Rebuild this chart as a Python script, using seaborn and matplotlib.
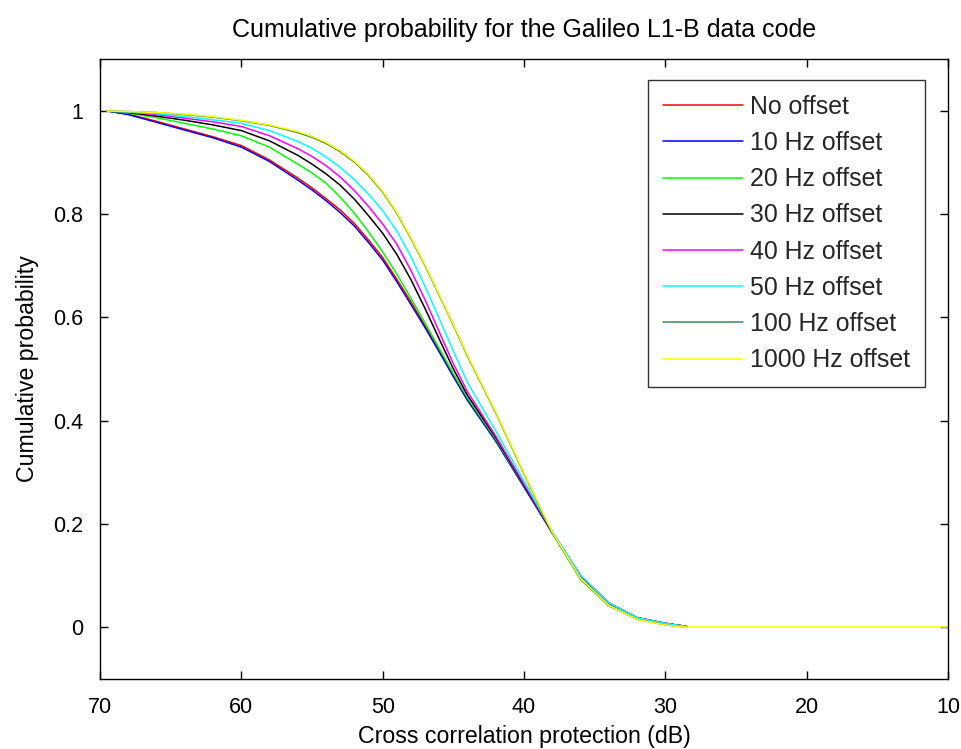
import numpy as np
import pandas as pd
import matplotlib
matplotlib.use("Agg")
import matplotlib.pyplot as plt
import seaborn as sns

# Cross correlation protection grid (dB)
protection_db = [69.5, 68, 66, 64, 62, 60, 58, 56, 55, 54, 53, 52, 51, 50, 49,
                 48, 47, 46, 45, 44, 42, 40, 38, 36, 34, 32, 30, 29, 28.5]

# Cumulative probability per Doppler offset
no_offset = [1.0, 0.994, 0.980, 0.965, 0.950, 0.933, 0.905, 0.870, 0.851, 0.830,
             0.808, 0.782, 0.750, 0.716, 0.674, 0.630, 0.584, 0.537, 0.488, 0.442,
             0.362, 0.272, 0.183, 0.100, 0.046, 0.018, 0.007, 0.003, 0.001]
off_10 = [1.0, 0.993, 0.978, 0.963, 0.948, 0.930, 0.902, 0.866, 0.847, 0.826,
          0.803, 0.777, 0.745, 0.711, 0.669, 0.625, 0.580, 0.533, 0.485, 0.439,
          0.360, 0.271, 0.182, 0.099, 0.046, 0.018, 0.007, 0.003, 0.001]
off_20 = [1.0, 0.996, 0.987, 0.976, 0.965, 0.952, 0.930, 0.897, 0.880, 0.860,
          0.833, 0.802, 0.766, 0.727, 0.684, 0.637, 0.589, 0.540, 0.491, 0.444,
          0.364, 0.273, 0.183, 0.099, 0.046, 0.018, 0.007, 0.003, 0.001]
off_30 = [1.0, 0.997, 0.990, 0.982, 0.973, 0.962, 0.942, 0.914, 0.897, 0.878,
          0.856, 0.829, 0.797, 0.763, 0.722, 0.673, 0.617, 0.558, 0.500, 0.449,
          0.367, 0.274, 0.183, 0.099, 0.046, 0.018, 0.007, 0.003, 0.001]
off_40 = [1.0, 0.998, 0.993, 0.986, 0.979, 0.970, 0.952, 0.927, 0.912, 0.894,
          0.872, 0.846, 0.815, 0.781, 0.742, 0.691, 0.634, 0.572, 0.510, 0.456,
          0.370, 0.277, 0.184, 0.100, 0.047, 0.018, 0.007, 0.003, 0.001]
off_50 = [1.0, 0.998, 0.995, 0.989, 0.983, 0.976, 0.962, 0.941, 0.928, 0.911,
          0.891, 0.867, 0.839, 0.807, 0.768, 0.718, 0.660, 0.598, 0.535, 0.474,
          0.380, 0.283, 0.185, 0.100, 0.047, 0.018, 0.007, 0.003, 0.001]
off_100 = [1.0, 0.999, 0.997, 0.993, 0.988, 0.981, 0.972, 0.958, 0.949, 0.937,
           0.921, 0.901, 0.875, 0.843, 0.802, 0.753, 0.700, 0.643, 0.585, 0.525,
           0.415, 0.297, 0.182, 0.092, 0.041, 0.015, 0.004, 0.001, 0.0]
off_1000 = [1.0, 0.999, 0.997, 0.994, 0.989, 0.982, 0.973, 0.960, 0.951, 0.939,
            0.923, 0.903, 0.877, 0.845, 0.804, 0.755, 0.702, 0.645, 0.587, 0.527,
            0.417, 0.299, 0.184, 0.094, 0.042, 0.015, 0.004, 0.001, 0.0]
# The 1000 Hz curve carries on at zero down to 10 dB
tail_db = [20, 10]
tail_prob = [0.0, 0.0]

labels = ["No offset", "10 Hz offset", "20 Hz offset", "30 Hz offset",
          "40 Hz offset", "50 Hz offset", "100 Hz offset", "1000 Hz offset"]
colors = ["#ff0000", "#0000ff", "#00ff00", "#000000",
          "#ff00ff", "#00ffff", "#3c8c50", "#ffff00"]
series = [no_offset, off_10, off_20, off_30, off_40, off_50, off_100, off_1000]

frames = []
for lab, vals in zip(labels, series):
    xs = list(protection_db)
    ys = list(vals)
    if lab == "1000 Hz offset":
        xs += tail_db
        ys += tail_prob
    frames.append(pd.DataFrame({"dB": xs, "p": ys, "curve": lab}))
df = pd.concat(frames, ignore_index=True)

sns.set_theme(style="white")
plt.rcParams["font.family"] = ["Liberation Sans", "DejaVu Sans"]

fig = plt.figure(figsize=(9.62, 7.49), dpi=100)
ax = fig.add_axes([0.104, 0.094, 0.8815, 0.8267])

sns.lineplot(data=df, x="dB", y="p", hue="curve", hue_order=labels,
             palette=colors, sort=False, estimator=None, units="curve",
             linewidth=1.1, ax=ax, legend=True)

ax.set_xlim(70, 10)
ax.set_ylim(-0.1, 1.1)
ax.set_xticks([70, 60, 50, 40, 30, 20, 10])
ax.set_xticklabels(["70", "60", "50", "40", "30", "20", "10"])
ax.set_yticks([0, 0.2, 0.4, 0.6, 0.8, 1])
ax.set_yticklabels(["0", "0.2", "0.4", "0.6", "0.8", "1"])

for sp in ax.spines.values():
    sp.set_color("black")
    sp.set_linewidth(1.0)
    sp.set_visible(True)
ax.tick_params(direction="in", length=6, width=1, color="black",
               top=True, right=True, bottom=True, left=True,
               labelsize=15.5, labelcolor="black")
ax.tick_params(axis="x", pad=13)
ax.tick_params(axis="y", pad=12)

ax.set_xlabel("Cross correlation protection (dB)", fontsize=16.7, color="black",
              labelpad=5)
ax.set_ylabel("Cumulative probability", fontsize=16.7, color="black", labelpad=10)
ax.set_title("Cumulative probability for the Galileo L1-B data code",
             fontsize=18, color="black", pad=16)

leg = ax.legend(loc="upper right", bbox_to_anchor=(0.9729, 0.9667),
                fontsize=17.9, frameon=True, fancybox=False, borderpad=0.6,
                handlelength=3.2, handletextpad=0.3, labelspacing=0.49,
                borderaxespad=0)
leg.get_frame().set_edgecolor("black")
leg.get_frame().set_linewidth(1.0)

fig.savefig("out.png", dpi=100, facecolor="white")
